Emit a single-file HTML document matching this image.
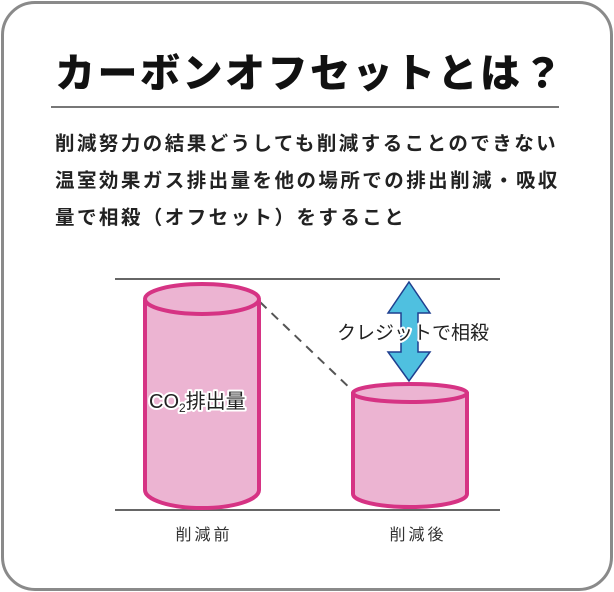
<!DOCTYPE html>
<html><head><meta charset="utf-8"><style>
html,body{margin:0;padding:0;background:#fff;}
body{width:614px;height:592px;position:relative;overflow:hidden;font-family:"Liberation Sans","Noto Sans CJK JP",sans-serif;}
.frame{position:absolute;left:1px;top:1px;width:606px;height:584px;border:3px solid #8a8a8a;border-radius:34px;}
.title{position:absolute;left:55px;top:50px;width:510px;font-size:40px;font-weight:900;letter-spacing:2.5px;color:#111;line-height:48px;white-space:nowrap;}
.rule{position:absolute;left:51px;top:106px;width:508px;height:2px;background:#777;}
.body{position:absolute;left:55px;top:126px;font-size:19.5px;font-weight:bold;color:#222;line-height:37px;letter-spacing:2.45px;white-space:nowrap;}
</style></head><body>
<div class="frame"></div>
<div class="title">カーボンオフセットとは？</div>
<div class="rule"></div>
<div class="body">削減努力の結果どうしても削減することのできない<br>温室効果ガス排出量を他の場所での排出削減・吸収<br>量で相殺（オフセット）をすること</div>
<svg width="614" height="592" style="position:absolute;left:0;top:0" font-family="Liberation Sans, Noto Sans CJK JP, sans-serif">
<line x1="115" y1="279" x2="500" y2="279" stroke="#666" stroke-width="2"/>
<line x1="115" y1="510" x2="500" y2="510" stroke="#666" stroke-width="2"/>
<line x1="260" y1="302" x2="355" y2="393" stroke="#555" stroke-width="2" stroke-dasharray="9,7"/>
<path d="M145 302 L145 490 A57 18 0 0 0 259 490 L259 302 Z" fill="#ecb4d2" stroke="#d63384" stroke-width="4"/>
<ellipse cx="202" cy="299" rx="57" ry="15" fill="#ecb4d2" stroke="#d63384" stroke-width="4"/>
<path d="M353 394 L353 494 A57 13 0 0 0 467 494 L467 394 Z" fill="#ecb4d2" stroke="#d63384" stroke-width="4"/>
<ellipse cx="410" cy="393" rx="57" ry="9" fill="#ecb4d2" stroke="#d63384" stroke-width="4"/>
<polygon points="409,282 430,313 418,313 418,352 430,352 409,381 388,352 401,352 401,313 388,313" fill="#4fc0e0" stroke="#1f3f8f" stroke-width="1.5"/>
<text x="413" y="339" text-anchor="middle" font-size="19" fill="#222" stroke="#fff" stroke-width="4" paint-order="stroke" stroke-linejoin="round">クレジットで相殺</text>
<text x="149" y="408" font-size="20" fill="#222" stroke="#fff" stroke-width="4" paint-order="stroke" stroke-linejoin="round">CO<tspan font-size="12" dy="4">2</tspan><tspan dy="-4">排出量</tspan></text>
<text x="204" y="540" text-anchor="middle" font-size="16" fill="#333" letter-spacing="3">削減前</text>
<text x="418" y="540" text-anchor="middle" font-size="16" fill="#333" letter-spacing="3">削減後</text>
</svg>
</body></html>
